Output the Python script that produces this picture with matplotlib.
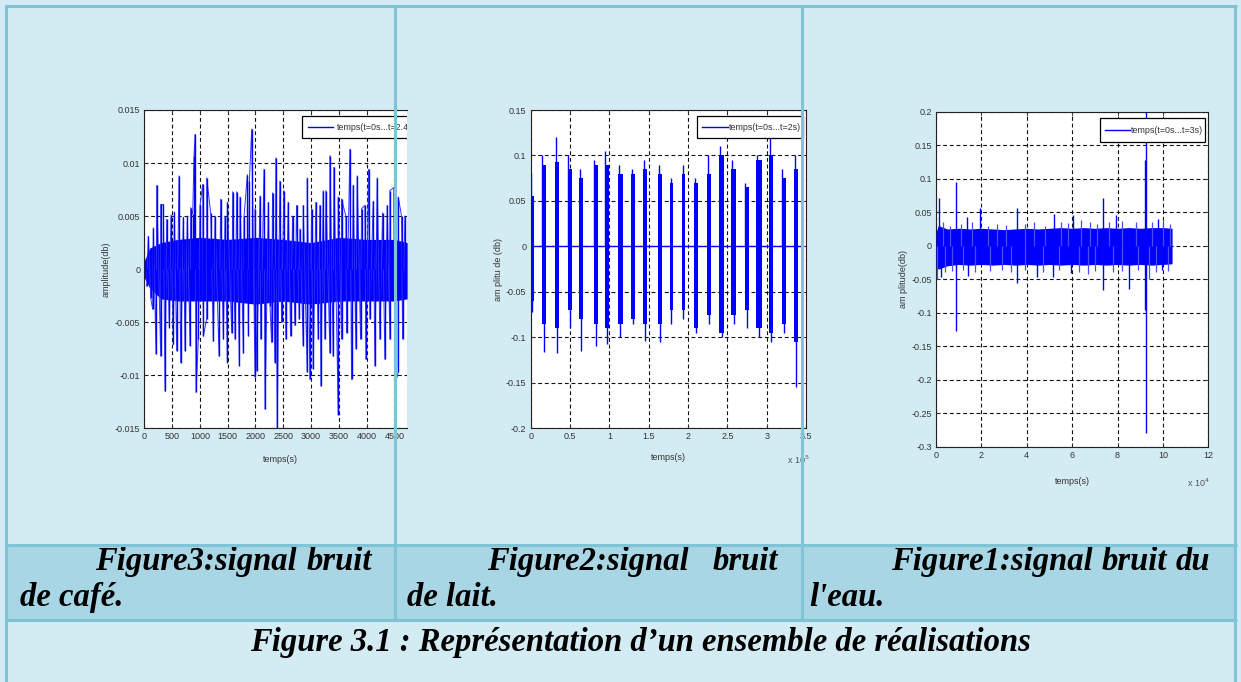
import matplotlib.pyplot as plt
from matplotlib.patches import Rectangle
from matplotlib.lines import Line2D

W, H = 1241, 682

# ---- Figure 3 : bruit de cafe (time in samples) ----
cafe_up_x = [73, 163, 223, 295, 343, 403, 481, 541, 625, 703, 775, 835, 871, 895, 913,
             1003, 1051, 1123, 1195, 1273, 1375, 1453, 1495, 1591, 1663, 1723, 1795, 1855,
             1891, 1933, 1993, 2083, 2155, 2233, 2308, 2368, 2440, 2512, 2590, 2668, 2740,
             2800, 2860, 2932, 3010, 3088, 3160, 3220, 3268, 3340, 3412, 3490, 3550, 3628,
             3700, 3760, 3832, 3910, 3970, 4036, 4120, 4192, 4288, 4372, 4420, 4492, 4570,
             4630, 4690]
cafe_up_y = [0.0031, 0.0039, 0.0079, 0.0061, 0.0061, 0.0047, 0.0051, 0.0054, 0.0088, 0.0049,
             0.0050, 0.0058, 0.0052, 0.0107, 0.0127, 0.0060, 0.0080, 0.0086, 0.0053, 0.0050,
             0.0066, 0.0050, 0.0063, 0.0073, 0.0073, 0.0068, 0.0050, 0.0089, 0.0083, 0.0132,
             0.0057, 0.0069, 0.0094, 0.0063, 0.0072, 0.0105, 0.0083, 0.0074, 0.0063, 0.0050,
             0.0060, 0.0038, 0.0060, 0.0086, 0.0057, 0.0063, 0.0060, 0.0074, 0.0074, 0.0107,
             0.0096, 0.0068, 0.0066, 0.0050, 0.0113, 0.0079, 0.0088, 0.0057, 0.0060, 0.0094,
             0.0064, 0.0086, 0.0053, 0.0060, 0.0074, 0.0077, 0.0068, 0.0050, 0.0050]
cafe_dn_x = [43, 115, 151, 211, 295, 373, 451, 523, 583, 655, 733, 823, 931, 973, 1063,
             1123, 1243, 1345, 1423, 1495, 1573, 1633, 1711, 1783, 1873, 1993, 2023, 2095,
             2173, 2263, 2290, 2350, 2392, 2470, 2548, 2632, 2710, 2788, 2860, 2932, 2980,
             3040, 3130, 3178, 3250, 3340, 3400, 3490, 3550, 3640, 3730, 3808, 3892, 3988,
             4060, 4150, 4240, 4330, 4420, 4510, 4570, 4648]
cafe_dn_y = [-0.0016, -0.0027, -0.0038, -0.0080, -0.0082, -0.0115, -0.0055, -0.0071, -0.0077,
             -0.0088, -0.0077, -0.0072, -0.0116, -0.0066, -0.0063, -0.0047, -0.0068, -0.0082,
             -0.0066, -0.0088, -0.0060, -0.0066, -0.0091, -0.0079, -0.0063, -0.0102, -0.0096,
             -0.0066, -0.0132, -0.0035, -0.0069, -0.0088, -0.0151, -0.0050, -0.0066, -0.0063,
             -0.0053, -0.0047, -0.0072, -0.0097, -0.0104, -0.0094, -0.0066, -0.0110, -0.0066,
             -0.0079, -0.0082, -0.0137, -0.0066, -0.0060, -0.0104, -0.0075, -0.0066, -0.0085,
             -0.0047, -0.0091, -0.0066, -0.0085, -0.0066, -0.0110, -0.0097, -0.0066]
cafe_core_x = [0, 100, 300, 600, 1000, 1500, 2000, 2500, 3000, 3500, 4000, 4500, 4730]
cafe_core_hi = [0.0008, 0.0020, 0.0025, 0.0028, 0.0030, 0.0028, 0.0030, 0.0028, 0.0025,
                0.0030, 0.0028, 0.0028, 0.0025]
cafe_core_lo = [-0.0008, -0.0018, -0.0028, -0.0030, -0.0030, -0.0030, -0.0033, -0.0030,
                -0.0033, -0.0030, -0.0030, -0.0030, -0.0028]

# ---- Figure 2 : bruit de lait (time in units of 1e5) ----
lait_x0 = [0.00, 0.14, 0.31, 0.47, 0.62, 0.80, 0.94, 1.11, 1.28, 1.43, 1.62,
           1.77, 1.92, 2.08, 2.24, 2.40, 2.55, 2.72, 2.87, 3.03, 3.19, 3.35]
lait_x1 = [0.04, 0.20, 0.36, 0.52, 0.67, 0.85, 1.00, 1.17, 1.33, 1.48, 1.67,
           1.81, 1.96, 2.13, 2.29, 2.46, 2.61, 2.78, 2.94, 3.08, 3.25, 3.40]
lait_peak_hi = [0.080, 0.100, 0.120, 0.100, 0.085, 0.095, 0.105, 0.090, 0.085, 0.095, 0.090,
                0.075, 0.090, 0.075, 0.100, 0.110, 0.095, 0.070, 0.100, 0.120, 0.085, 0.100]
lait_peak_lo = [-0.072, -0.116, -0.117, -0.090, -0.115, -0.110, -0.107, -0.100, -0.085, -0.104,
                -0.105, -0.085, -0.080, -0.095, -0.085, -0.100, -0.085, -0.090, -0.100, -0.105,
                -0.095, -0.155]
lait_body_hi = [0.055, 0.090, 0.093, 0.085, 0.075, 0.090, 0.090, 0.080, 0.080, 0.085, 0.080,
                0.070, 0.080, 0.070, 0.080, 0.100, 0.085, 0.065, 0.095, 0.100, 0.075, 0.085]
lait_body_lo = [-0.060, -0.085, -0.090, -0.070, -0.080, -0.085, -0.090, -0.085, -0.080, -0.085,
                -0.085, -0.070, -0.070, -0.090, -0.075, -0.095, -0.075, -0.070, -0.090, -0.095,
                -0.085, -0.105]
lait_end = 3.42

# ---- Figure 1 : bruit de l'eau (time in units of 1e4) ----
eau_core_x = [0, 0.1, 0.5, 1, 1.5, 2, 2.5, 3, 3.5, 4, 4.5, 5, 5.5, 6, 6.5, 7, 7.5, 8,
              8.5, 9, 9.5, 10, 10.4]
eau_core_hi = [0.020, 0.030, 0.025, 0.026, 0.025, 0.026, 0.025, 0.024, 0.025, 0.026, 0.025,
               0.026, 0.027, 0.026, 0.027, 0.026, 0.027, 0.026, 0.027, 0.026, 0.027, 0.027, 0.026]
eau_core_lo = [-0.030, -0.035, -0.030, -0.028, -0.029, -0.028, -0.029, -0.028, -0.029, -0.028,
               -0.029, -0.028, -0.029, -0.028, -0.029, -0.028, -0.029, -0.028, -0.029, -0.028,
               -0.029, -0.028, -0.027]
eau_fringe_x = [0.3, 0.6, 1.1, 1.6, 2.3, 2.7, 3.1, 3.9, 4.3, 4.8, 5.5, 5.8, 6.4, 6.8, 7.1,
                7.6, 8.2, 8.8, 9.5, 10.0, 10.3,
                0.05, 0.4, 0.7, 1.2, 1.7, 2.4, 2.9, 3.3, 3.9, 4.7, 5.4, 6.3, 6.7, 7.0, 7.8,
                8.2, 8.9, 9.4, 9.7, 10.2]
eau_fringe_y = [0.035, 0.030, 0.032, 0.035, 0.030, 0.033, 0.031, 0.033, 0.035, 0.030, 0.036,
                0.034, 0.038, 0.035, 0.033, 0.036, 0.037, 0.035, 0.035, 0.038, 0.033,
                -0.050, -0.040, -0.038, -0.037, -0.040, -0.038, -0.036, -0.040, -0.037, -0.040,
                -0.036, -0.040, -0.042, -0.038, -0.040, -0.038, -0.036, -0.050, -0.040, -0.038]
eau_spike_x = [0.15, 0.20, 0.86, 0.86, 1.38, 1.40, 1.95, 3.55, 3.55, 4.43, 5.20, 5.17, 5.93,
               6.05, 7.34, 7.34, 7.93, 8.52, 9.21, 9.21, 9.24, 9.24, 9.80, 9.95]
eau_spike_y = [0.071, -0.046, 0.0955, -0.128, 0.043, -0.045, 0.056, 0.056, -0.055, -0.046,
               0.047, -0.046, -0.041, 0.046, 0.071, -0.066, 0.046, -0.064, 0.128, -0.096,
               0.20, -0.28, 0.040, -0.036]

legend_labels = ["temps(t=0s...t=2.4s)", "temps(t=0s...t=2s)", "temps(t=0s...t=3s)"]

BLUE = '#0000ff'
LIGHT = '#d3ebf3'
MID = '#a8d6e4'
BORDER = '#7fc3d6'
TICK_FONT = 'Liberation Sans'


def fx(x):
    return x / W


def fy(y):
    return 1 - y / H


def style_axes(ax, xticks, xlabels, yticks, ylabels, show_right=True):
    ax.set_facecolor('white')
    ax.set_xticks(xticks)
    ax.set_xticklabels(xlabels)
    ax.set_yticks(yticks)
    ax.set_yticklabels(ylabels)
    ax.tick_params(direction='in', length=3, width=0.6, labelsize=6.5, colors='#333333',
                   top=True, right=show_right, pad=3)
    for lab in ax.get_xticklabels() + ax.get_yticklabels():
        lab.set_family(TICK_FONT)
    ax.grid(True, color='#111111', linestyle=(0, (3.5, 2.5)), linewidth=0.8)
    ax.set_axisbelow(True)
    for s in ax.spines.values():
        s.set_linewidth(0.8)
        s.set_color('#222222')
    if not show_right:
        ax.spines['right'].set_visible(False)


def draw_legend(ax, x0, x1, y0, y1, lx0, lx1, tx, label):
    ax.add_patch(Rectangle((x0, y0), x1 - x0, y1 - y0, transform=ax.transAxes,
                           facecolor='white', edgecolor='black', lw=0.9, zorder=5, clip_on=True))
    ym = (y0 + y1) / 2
    ax.plot([lx0, lx1], [ym, ym], color=BLUE, lw=1.0, transform=ax.transAxes, zorder=6,
            clip_on=True)
    ax.text(tx, ym, label, transform=ax.transAxes, fontsize=6.4, family=TICK_FONT,
            color='#333333', va='center', ha='left', zorder=7, clip_on=True)


fig = plt.figure(figsize=(W / 100, H / 100), dpi=100)
fig.patch.set_facecolor(LIGHT)

# caption row background
fig.add_artist(Rectangle((fx(6), fy(619)), fx(1235) - fx(6), fy(544) - fy(619),
                         transform=fig.transFigure, facecolor=MID, edgecolor='none', zorder=-5))

# ---- panel 1 : cafe ----
ax1 = fig.add_axes([fx(144.3), fy(428.3), (407 - 144.3) / W, (428.3 - 110) / H])
ax1.fill_between(cafe_core_x, cafe_core_lo, cafe_core_hi, color=BLUE, lw=0, zorder=3)
cafe_pts = sorted(zip(cafe_up_x + cafe_dn_x, cafe_up_y + cafe_dn_y))
ax1.plot([p[0] for p in cafe_pts], [p[1] for p in cafe_pts], color='#3535ff', lw=0.7, zorder=3)
ax1.vlines(cafe_up_x, 0, cafe_up_y, color=BLUE, lw=1.0, zorder=3)
ax1.vlines(cafe_dn_x, 0, cafe_dn_y, color=BLUE, lw=1.0, zorder=3)
ax1.set_xlim(0, 4728)
ax1.set_ylim(-0.015, 0.015)
style_axes(ax1, list(range(0, 5000, 500)), [str(v) for v in range(0, 5000, 500)],
           [-0.015, -0.01, -0.005, 0, 0.005, 0.01, 0.015],
           ['-0.015', '-0.01', '-0.005', '0', '0.005', '0.01', '0.015'], show_right=False)
ax1.set_ylabel('amplitude(db)', fontsize=6.5, family=TICK_FONT, color='#333333')
ax1.yaxis.set_label_coords(-0.13, 0.5)
ax1.set_xlabel('temps(s)', fontsize=6.5, family=TICK_FONT, color='#333333')
ax1.xaxis.set_label_coords(0.52, -0.084)
draw_legend(ax1, 0.60, 1.2, 0.912, 0.981, 0.623, 0.718, 0.733, legend_labels[0])

# ---- panel 2 : lait ----
ax2 = fig.add_axes([fx(530.7), fy(428.3), (806 - 530.7) / W, (428.3 - 110) / H])
ax2.plot([0, lait_end], [0, 0], color=BLUE, lw=1.0, zorder=3)
for i in range(len(lait_x0)):
    ax2.fill_between([lait_x0[i], lait_x1[i]], [lait_body_lo[i]] * 2, [lait_body_hi[i]] * 2,
                     color=BLUE, lw=0, zorder=3)
    xm = (lait_x0[i] + lait_x1[i]) / 2
    ax2.vlines([lait_x0[i] + 0.01, xm], [0, lait_peak_lo[i]], [lait_peak_hi[i], 0],
               color=BLUE, lw=1.0, zorder=3)
ax2.set_xlim(0, 3.5)
ax2.set_ylim(-0.2, 0.15)
xt2 = [0, 0.5, 1, 1.5, 2, 2.5, 3, 3.5]
style_axes(ax2, xt2, ['0', '0.5', '1', '1.5', '2', '2.5', '3', '3.5'],
           [-0.2, -0.15, -0.1, -0.05, 0, 0.05, 0.1, 0.15],
           ['-0.2', '-0.15', '-0.1', '-0.05', '0', '0.05', '0.1', '0.15'])
ax2.set_ylabel('am plitu de (db)', fontsize=6.5, family=TICK_FONT, color='#333333')
ax2.yaxis.set_label_coords(-0.10, 0.5)
ax2.set_xlabel('temps(s)', fontsize=6.5, family=TICK_FONT, color='#333333')
ax2.xaxis.set_label_coords(0.5, -0.078)
draw_legend(ax2, 0.604, 0.989, 0.912, 0.981, 0.622, 0.717, 0.72, legend_labels[1])
fig.text(fx(787), fy(464), r'x 10$^5$', fontsize=6.5, family=TICK_FONT, color='#555555')

# ---- panel 3 : eau ----
ax3 = fig.add_axes([fx(936), fy(446.7), 272.4 / W, 335 / H])
ax3.fill_between(eau_core_x, eau_core_lo, eau_core_hi, color=BLUE, lw=0, zorder=3)
ax3.vlines(eau_fringe_x, 0, eau_fringe_y, color='#4a4aff', lw=0.9, zorder=3)
ax3.vlines(eau_spike_x, 0, eau_spike_y, color=BLUE, lw=1.0, zorder=3)
ax3.set_xlim(0, 12)
ax3.set_ylim(-0.3, 0.2)
style_axes(ax3, list(range(0, 13, 2)), [str(v) for v in range(0, 13, 2)],
           [-0.3, -0.25, -0.2, -0.15, -0.1, -0.05, 0, 0.05, 0.1, 0.15, 0.2],
           ['-0.3', '-0.25', '-0.2', '-0.15', '-0.1', '-0.05', '0', '0.05', '0.1', '0.15', '0.2'])
ax3.set_ylabel('am plitude(db)', fontsize=6.5, family=TICK_FONT, color='#333333')
ax3.yaxis.set_label_coords(-0.103, 0.5)
ax3.set_xlabel('temps(s)', fontsize=6.5, family=TICK_FONT, color='#333333')
ax3.xaxis.set_label_coords(0.5, -0.09)
draw_legend(ax3, 0.602, 0.988, 0.909, 0.981, 0.62, 0.712, 0.716, legend_labels[2])
fig.text(fx(1187), fy(487), r'x 10$^4$', fontsize=6.5, family=TICK_FONT, color='#555555')


# ---- table borders (drawn over the plots) ----
def hline(y, x0, x1, lw=2.2):
    fig.add_artist(Line2D([fx(x0), fx(x1)], [fy(y), fy(y)], transform=fig.transFigure,
                          color=BORDER, lw=lw, zorder=10, solid_capstyle='butt'))


def vline(x, y0, y1, lw=2.2):
    fig.add_artist(Line2D([fx(x), fx(x)], [fy(y0), fy(y1)], transform=fig.transFigure,
                          color=BORDER, lw=lw, zorder=10, solid_capstyle='butt'))


hline(5.5, 4.5, 1236.5)
hline(544.5, 4.5, 1236.5)
hline(620, 4.5, 1236.5)
vline(6, 4.5, 682)
vline(1235, 4.5, 682)
vline(395, 4.5, 620)
vline(801.5, 4.5, 620)

# ---- captions ----
cap = dict(fontsize=23.5, family='Liberation Serif', weight='bold', style='italic',
           color='black', va='baseline')
renderer = fig.canvas.get_renderer()


def justify(words, x0, x1, y):
    texts = [fig.text(0, fy(y), w, ha='left', **cap) for w in words]
    widths = [t.get_window_extent(renderer).width for t in texts]
    gap = (x1 - x0 - sum(widths)) / (len(words) - 1)
    x = x0
    for t, w in zip(texts, widths):
        t.set_x(fx(x))
        x += w + gap


justify(['Figure3:signal', 'bruit'], 95, 372, 570)
fig.text(fx(20), fy(606), 'de café.', ha='left', **cap)
justify(['Figure2:signal', 'bruit'], 487, 778, 570)
fig.text(fx(407), fy(606), 'de lait.', ha='left', **cap)
justify(['Figure1:signal', 'bruit', 'du'], 891, 1210, 570)
fig.text(fx(809), fy(606), "l'eau.", ha='left', **cap)
fig.text(fx(640), fy(651), 'Figure 3.1 : Représentation d\u2019un ensemble de réalisations',
         ha='center', **cap)

fig.savefig('out.png', dpi=100, facecolor=fig.get_facecolor())
